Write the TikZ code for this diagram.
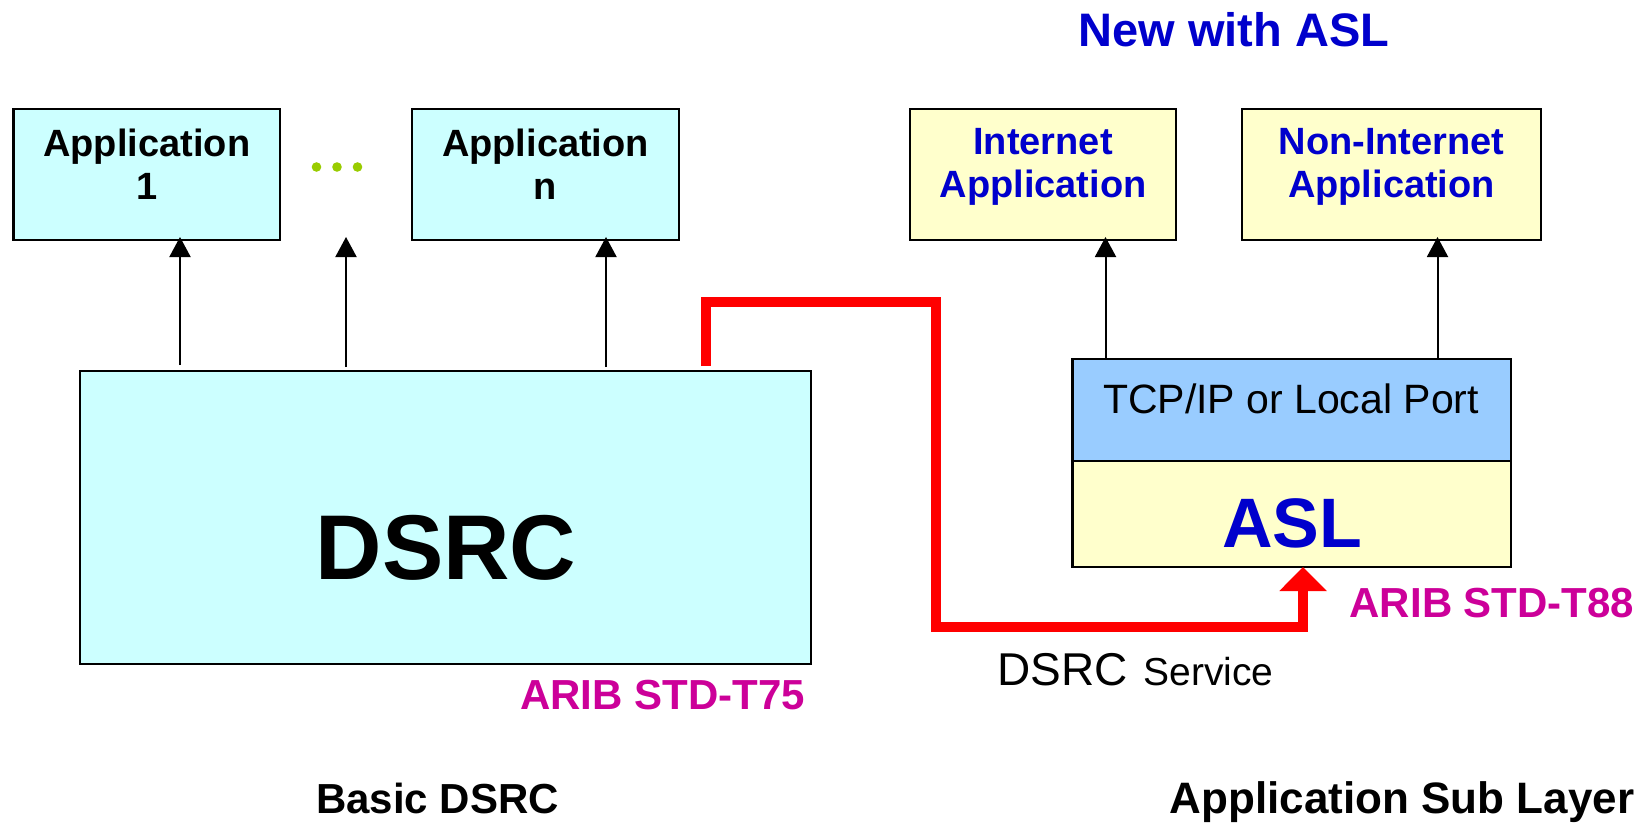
\documentclass[tikz,border=0pt]{standalone}
\usepackage{fontspec}
\setmainfont{Liberation Sans}
\usetikzlibrary{arrows.meta,calc}
\definecolor{cyanbox}{HTML}{CCFFFF}
\definecolor{yelbox}{HTML}{FFFFCC}
\definecolor{bluebox}{HTML}{99CCFF}
\definecolor{txtblue}{HTML}{0000CC}
\definecolor{magtxt}{HTML}{CC0099}
\definecolor{dotgreen}{HTML}{99CC00}
\definecolor{linered}{HTML}{FF0000}
\begin{document}
\begin{tikzpicture}[x=1pt,y=-1pt,
  box/.style={draw=black, line width=2.5pt, rectangle, inner sep=0pt, outer sep=0pt},
  cyanb/.style={box, fill=cyanbox},
  yelb/.style={box, fill=yelbox},
  blueb/.style={box, fill=bluebox},
  apptxt/.style={font=\bfseries\fontsize{38}{43}\selectfont, align=center, inner sep=0pt, anchor=north},
  arr/.style={line width=2pt, -{Triangle[length=20pt,width=21pt]}, shorten >=-3pt},
  redarr/.style={draw=linered, line width=10.5pt, line join=miter, -{Triangle[length=24pt,width=46pt]}},
  stdtxt/.style={font=\bfseries\fontsize{42}{42}\selectfont, text=magtxt, inner sep=0pt},
  captxt/.style={font=\bfseries\fontsize{42}{42}\selectfont, inner sep=0pt, anchor=base}]
\useasboundingbox[fill=white] (0,0) rectangle (1645,824);

% boxes
\node[cyanb, minimum width=266.5pt, minimum height=131pt] (app1) at (146.75,174.5) {};
\node[cyanb, minimum width=267pt, minimum height=131pt] (appn) at (545.5,174.5) {};
\node[cyanb, minimum width=731pt, minimum height=293pt] (dsrc) at (445.5,517.5) {};
\node[yelb, minimum width=266pt, minimum height=131pt] (inet) at (1043,174.5) {};
\node[yelb, minimum width=299pt, minimum height=131pt] (ninet) at (1391.5,174.5) {};
\node[blueb, minimum width=438.5pt, minimum height=102pt] (tcp) at (1291.75,410) {};
\node[yelb, minimum width=438.5pt, minimum height=106pt] (asl) at (1291.75,514) {};

% texts in boxes
\node[apptxt] (app1t) at ($(app1.north)+(0,19.3)$) {Application\\1};
\node[apptxt] (appnt) at ($(appn.north)+(0,19.3)$) {Application\\n};
\node[apptxt, text=txtblue] (inett) at ($(inet.north)+(0,19.3)$) {Internet\\Application};
\node[apptxt, text=txtblue] (ninett) at ($(ninet.north)+(0,19.3)$) {Non-Internet\\Application};
\node[anchor=base, inner sep=0pt, font=\bfseries\fontsize{92}{92}\selectfont] (dsrct) at (446,579) {DSRC};
\node[anchor=base, inner sep=0pt, font=\fontsize{41}{41}\selectfont] (tcpt) at (1291,413) {TCP/IP or Local Port};
\node[anchor=base, inner sep=0pt, text=txtblue, font=\bfseries\fontsize{70}{70}\selectfont] (aslt) at (1292,547) {ASL};

% dots
\fill[dotgreen] (316.5,167) circle (4.8pt) (337,167) circle (4.8pt) (357.5,167) circle (4.8pt);

% arrows
\coordinate (x1) at (180,0);
\coordinate (x2) at (346,0);
\coordinate (x3) at (606,0);
\coordinate (x4) at (1105.5,0);
\coordinate (x5) at (1437.5,0);
\coordinate (xr1) at (706,0);
\coordinate (xr2) at (936,0);
\coordinate (xr3) at (1303,0);
\coordinate (yr1) at (0,302);
\coordinate (yr2) at (0,627);
\draw[arr] ([yshift=6pt]dsrc.north -| x1) -- (app1.south -| x1);
\draw[arr] ([yshift=4pt]dsrc.north -| x2) -- (app1.south -| x2);
\draw[arr] ([yshift=4pt]dsrc.north -| x3) -- (appn.south -| x3);
\draw[arr] (tcp.north -| x4) -- (inet.south -| x4);
\draw[arr] (tcp.north -| x5) -- (ninet.south -| x5);

% red service line
\draw[redarr] ([yshift=5pt]dsrc.north -| xr1) -- (xr1 |- yr1) -- (xr2 |- yr1) -- (xr2 |- yr2) -- (xr3 |- yr2) -- (asl.south -| xr3);

% labels
\node[stdtxt, anchor=base east] (t75) at (805,709) {ARIB STD-T75};
\node[stdtxt, anchor=base] (t88) at (1492,617) {ARIB STD-T88};
\node[anchor=base west, inner sep=0pt, font=\fontsize{39}{39}\selectfont] (svc) at (997,685) {{\fontsize{46}{46}\selectfont DSRC}\hspace{16pt}Service};
\node[anchor=base, inner sep=0pt, text=txtblue, font=\bfseries\fontsize{47}{47}\selectfont] (newasl) at (1234,47) {New with ASL};
\node[captxt] (basic) at (437.5,813) {Basic DSRC};
\node[captxt, font=\bfseries\fontsize{44}{44}\selectfont] (asltitle) at (1402,813) {Application Sub Layer};
\end{tikzpicture}
\end{document}
